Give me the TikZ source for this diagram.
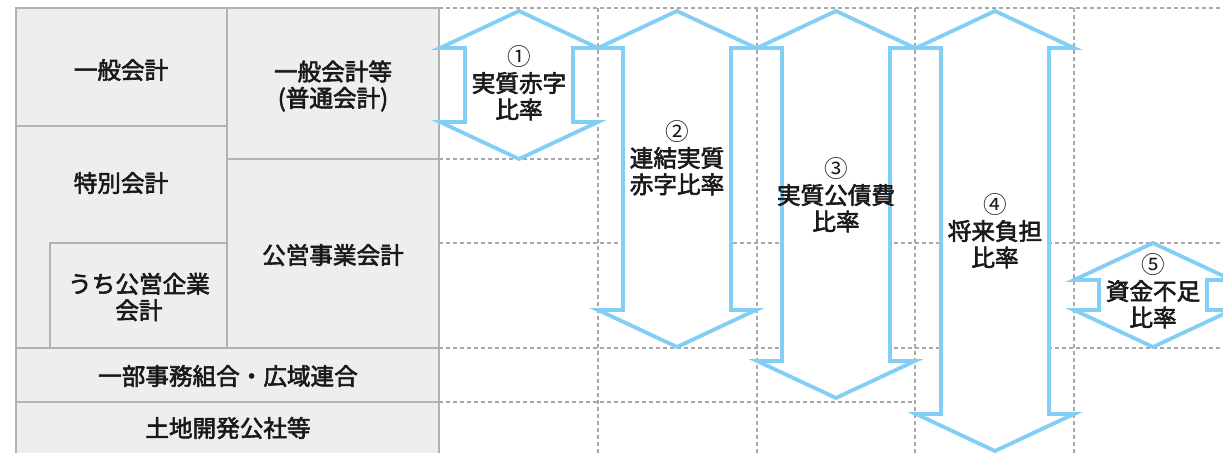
\documentclass[tikz,border=0pt]{standalone}
\usepackage{fontspec}
\newfontfamily\jpfont[FakeBold=2.5]{Noto Sans CJK JP}
\newfontfamily\jpnum{Noto Sans CJK JP}
\definecolor{cellfill}{RGB}{237,238,237}
\definecolor{cellline}{RGB}{178,178,178}
\definecolor{gridline}{RGB}{168,168,168}
\definecolor{arrowblue}{RGB}{130,206,245}
\newcommand{\dblarr}[3]{% center x, top tip y, bottom tip y
  \draw[arrowshape] (#1,#2) -- (#1+79,#2+37) -- (#1+54,#2+37) -- (#1+54,#3-37)
    -- (#1+79,#3-37) -- (#1,#3) -- (#1-79,#3-37) -- (#1-54,#3-37)
    -- (#1-54,#2+37) -- (#1-79,#2+37) -- cycle;}
\newcommand{\cnum}[1]{{\jpnum #1}}
\begin{document}
\begin{tikzpicture}[x=0.5pt,y=-0.5pt,
  cell/.style={draw=cellline,fill=cellfill,line width=0.75pt},
  grid/.style={draw=gridline,line width=0.6pt,dash pattern=on 2pt off 1.5pt},
  arrowshape/.style={draw=arrowblue,fill=white,line width=1.9pt,line join=miter},
  lbl/.style={font=\jpfont\fontsize{11.8}{13.2}\selectfont,align=center,inner sep=0pt,text=black!90}]
\useasboundingbox (0,0) rectangle (1223,453);
\clip (0,0) rectangle (1223,453);
% left table
\draw[cell] (16,8) rectangle (227,126);
\draw[cell] (16,126) rectangle (227,348);
\draw[cell] (50,243) rectangle (227,348);
\draw[cell] (227,8) rectangle (439,159);
\draw[cell] (227,159) rectangle (439,348);
\draw[cell] (16,348) rectangle (439,402);
\draw[cell] (16,402) rectangle (439,470);
% dashed grid
\draw[grid] (439,8) -- (1223,8);
\draw[grid] (439,159) -- (598,159);
\draw[grid] (439,243) -- (1223,243);
\draw[grid] (439,348) -- (1223,348);
\draw[grid] (439,402) -- (915,402);
\foreach \gx in {598,757,915,1074} \draw[grid] (\gx,8) -- (\gx,460);
% arrows
\dblarr{519}{11}{159}
\dblarr{677}{11}{347}
\dblarr{836}{11}{398}
\dblarr{995}{11}{451}
\dblarr{1153}{243}{347}
% labels
\node[lbl] (ippan) at (121,70) {一般会計};
\node[lbl] (ippanto) at (333,86) {一般会計等\\(普通会計)};
\node[lbl] (tokubetsu) at (121,183) {特別会計};
\node[lbl] (koei) at (333,255) {公営事業会計};
\node[lbl] (kigyo) at (139,297) {うち公営企業\\会計};
\node[lbl] (kumiai) at (228,376) {一部事務組合・広域連合};
\node[lbl] (kosha) at (228,428) {土地開発公社等};
\node[lbl] (r1) at (519,83) {\cnum{①}\\実質赤字\\比率};
\node[lbl] (r2) at (677,158) {\cnum{②}\\連結実質\\赤字比率};
\node[lbl] (r3) at (836,195) {\cnum{③}\\実質公債費\\比率};
\node[lbl] (r4) at (995,231) {\cnum{④}\\将来負担\\比率};
\node[lbl] (r5) at (1153,291) {\cnum{⑤}\\資金不足\\比率};
\end{tikzpicture}
\end{document}
